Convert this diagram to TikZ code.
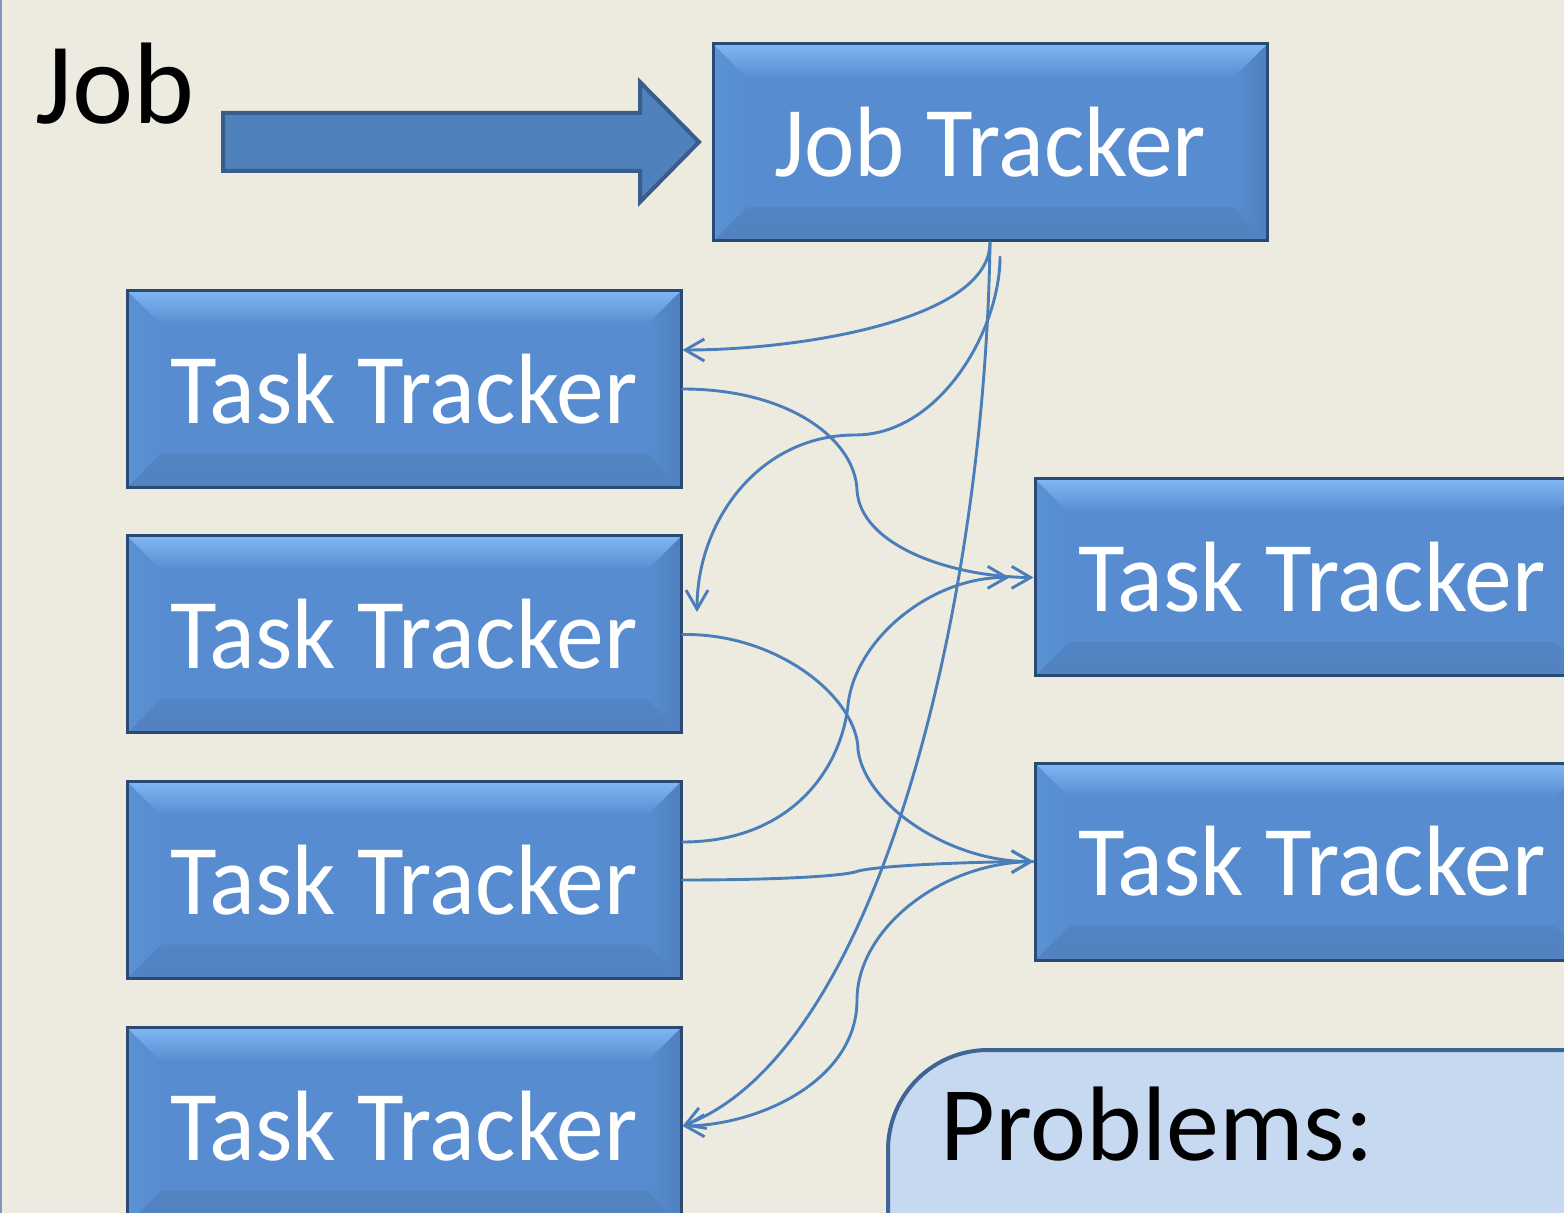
\documentclass[tikz,border=0pt]{standalone}
\usepackage{fontspec}
\setmainfont{Carlito}
\newfontfamily\boxfont{Carlito}[FakeStretch=0.955]
\usetikzlibrary{arrows.meta}

\definecolor{bg}{HTML}{EDEBE0}
\definecolor{face}{HTML}{578DD0}
\definecolor{bevtop}{HTML}{8CC1FD}
\definecolor{bevleft}{HTML}{5A92D6}
\definecolor{bevright}{HTML}{4F80BF}
\definecolor{bevbot}{HTML}{5282C0}
\definecolor{boxline}{HTML}{2B4A73}
\definecolor{conn}{HTML}{4A7EBB}
\definecolor{arrowfill}{HTML}{4F81BD}
\definecolor{arrowline}{HTML}{385D8A}
\definecolor{probfill}{HTML}{C6D9F1}
\definecolor{probline}{HTML}{3F6596}
\definecolor{slideedge}{HTML}{8099C0}

\tikzset{
  bevelbox/.style={draw=boxline, line width=1.5pt, fill=face,
    minimum width=277pt, minimum height=98.5pt, inner sep=0pt,
    text=white, font=\boxfont\fontsize{50}{60}\selectfont,
    path picture={
      \shade[top color=face, bottom color=bevbot] (path picture bounding box.south west) -- ++(17pt,17pt)
        -- ([shift={(-17pt,17pt)}]path picture bounding box.south east)
        -- (path picture bounding box.south east) -- cycle;
      \shade[left color=face, right color=bevright] (path picture bounding box.north east) -- ++(-17pt,-17pt)
        -- ([shift={(-17pt,17pt)}]path picture bounding box.south east)
        -- (path picture bounding box.south east) -- cycle;
      \shade[left color=bevleft, right color=face] (path picture bounding box.north west) -- ++(17pt,-17pt)
        -- ([shift={(17pt,17pt)}]path picture bounding box.south west)
        -- (path picture bounding box.south west) -- cycle;
      \shade[top color=bevtop!80!face, middle color=bevtop, bottom color=face]
        (path picture bounding box.north west)
        -- (path picture bounding box.north east)
        -- ++(-17pt,-17pt)
        -- ([shift={(17pt,-17pt)}]path picture bounding box.north west) -- cycle;
    }},
  conn/.style={draw=conn, line width=1.45pt, line cap=round},
  tip/.style={-{Straight Barb[length=9.5pt,width=11pt,line width=1.45pt]}},
  label/.style={text=black, inner sep=0pt}
}

\begin{document}
\begin{tikzpicture}[x=0.5pt, y=-0.5pt]
\useasboundingbox (0,0) rectangle (1564,1213);
\clip (0,0) rectangle (1564,1213);
\fill[bg] (0,0) rectangle (1564,1213);
\draw[slideedge, line width=1pt] (1,0) -- (1,1213);

% Job label and block arrow
\node[label, anchor=base west, font=\fontsize{58}{70}\selectfont] (job) at (35,124) {Job};
\draw[fill=arrowfill, draw=arrowline, line width=2pt, line join=miter]
  (223,113) -- (640,113) -- (640,82) -- (699,142) -- (640,202) -- (640,171) -- (223,171) -- cycle;

% boxes
\node[bevelbox] (jt)  at (990,142.5) {Job Tracker};
\node[bevelbox] (tt1) at (404,389) {Task Tracker};
\node[bevelbox] (tt2) at (404,634.5) {Task Tracker};
\node[bevelbox] (tt3) at (404,880) {Task Tracker};
\node[bevelbox] (tt4) at (404,1126) {Task Tracker};
\node[bevelbox] (rt1) at (1312,577.5) {Task Tracker};
\node[bevelbox] (rt2) at (1312,861.5) {Task Tracker};

% problems box
\node[draw=probline, fill=probfill, line width=2pt, rounded corners=50pt,
      anchor=north west, minimum width=420pt, minimum height=150pt] (prob) at (886,1048) {};
\node[label, anchor=base west, font=\fontsize{53}{63}\selectfont] (probtext) at (940,1160) {Problems:};

% connectors
\coordinate (jt2) at (1000,257);
\coordinate (tt2arr) at (697,612);

\draw[conn, tip] (jt.south) .. controls (990,320) and (800,350) .. ([yshift=19.5pt]tt1.east);
\draw[conn, tip] (jt2) .. controls (1000,330) and (940,435) .. (855,435)
  .. controls (760,435) and (697,520) .. (tt2arr);
\draw[conn, tip] (jt.south) .. controls (985,600) and (880,1050) .. (tt4.east);

\draw[conn, tip] (tt1.east) .. controls (790,389) and (855,440) .. (857,490)
  .. controls (860,545) and (950,577) .. (rt1.west);
\draw[conn, tip] (tt2.east) .. controls (780,633) and (858,700) .. (858,750)
  .. controls (865,805) and (950,862) .. (rt2.west);
\draw[conn, tip] ([yshift=19pt]tt3.east) .. controls (790,842) and (841,770) .. (848,705)
  .. controls (855,640) and (930,577) .. ([xshift=-12pt]rt1.west);
\draw[conn, tip] (tt3.east) .. controls (780,880) and (840,876) .. (855,872)
  .. controls (870,866) and (960,862) .. (rt2.west);
\draw[conn, tip] (rt2.west) .. controls (940,862) and (857,930) .. (857,1000)
  .. controls (857,1080) and (760,1125) .. (tt4.east);
\end{tikzpicture}
\end{document}
